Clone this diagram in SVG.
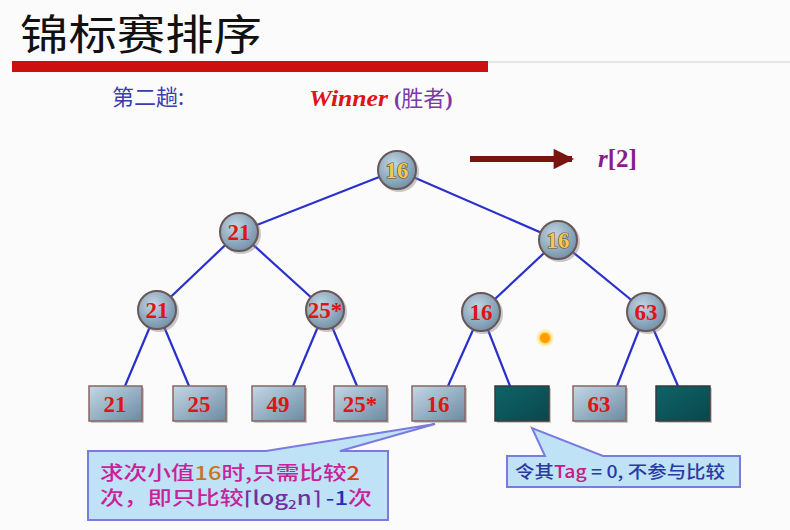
<svg xmlns="http://www.w3.org/2000/svg" width="790" height="530" viewBox="0 0 790 530">
<defs>
<radialGradient id="gc" cx="40%" cy="35%" r="70%">
<stop offset="0" stop-color="#c2d6e4"/>
<stop offset="1" stop-color="#6f8ea6"/>
</radialGradient>
<linearGradient id="gr" x1="0" y1="0" x2="1" y2="1">
<stop offset="0" stop-color="#c4d8e6"/>
<stop offset="1" stop-color="#6c8aa2"/>
</linearGradient>
<linearGradient id="gd" x1="0" y1="0" x2="1" y2="1">
<stop offset="0" stop-color="#0e6468"/>
<stop offset="1" stop-color="#0a474c"/>
</linearGradient>
<radialGradient id="glow">
<stop offset="0" stop-color="#ff9900"/>
<stop offset="0.45" stop-color="#ffa000"/>
<stop offset="0.55" stop-color="#ffd860"/>
<stop offset="1" stop-color="#fff3c0" stop-opacity="0"/>
</radialGradient>
<marker id="ah" viewBox="0 0 10 10" refX="9" refY="5" markerWidth="4" markerHeight="3.4" orient="auto" markerUnits="strokeWidth">
<path d="M0,0 L10,5 L0,10 Z" fill="#7a1410"/>
</marker>
</defs>
<style>
.cj{font-family:"Noto Sans CJK SC","Noto Sans",sans-serif}
.num{font-family:"Liberation Serif","DejaVu Serif",serif;font-weight:bold;font-size:23px;text-anchor:middle}
.red{fill:#dd1515}
.gold{fill:#f0c858;stroke:#6a5020;stroke-width:1.2;paint-order:stroke}
.edge{stroke:#2a30cc;stroke-width:2.2;fill:none}
.circ{fill:url(#gc);stroke:#6a5656;stroke-width:2}
.shad{fill:#888;opacity:0.45}
.leaf{fill:url(#gr);stroke:#8a6464;stroke-width:1.5}
.dark{fill:url(#gd);stroke:#3a3a3a;stroke-width:1.5}
.call{fill:#bfe2f6;stroke:#7a7ae0;stroke-width:2}
</style>
<rect width="790" height="530" fill="#fbfbfb"/>

<g id="title">
<text x="20" y="50" class="cj" font-size="42" fill="#111" textLength="242" lengthAdjust="spacingAndGlyphs">锦标赛排序</text>
<line x1="488" y1="62" x2="790" y2="62" stroke="#cfcfcf" stroke-width="1"/>
<rect x="12" y="61" width="476" height="11" fill="#cc1010"/>
</g>

<g id="subtitle">
<text x="112" y="105" class="cj" font-size="22" fill="#3a3cb0">第二趟:</text>
<text x="309" y="106" font-family="Liberation Serif,serif" font-weight="bold" font-style="italic" font-size="24" fill="#dd1515" textLength="79" lengthAdjust="spacingAndGlyphs">Winner</text>
<text x="394" y="106" font-size="22" fill="#7a3aa8"><tspan font-family="Liberation Serif,serif" font-weight="bold">(</tspan><tspan class="cj">胜者</tspan><tspan font-family="Liberation Serif,serif" font-weight="bold">)</tspan></text>
</g>

<g id="connectors">
<line class="edge" x1="397" y1="170" x2="239" y2="232"/>
<line class="edge" x1="397" y1="170" x2="558" y2="240"/>
<line class="edge" x1="239" y1="232" x2="157" y2="310"/>
<line class="edge" x1="239" y1="232" x2="325" y2="310"/>
<line class="edge" x1="558" y1="240" x2="481" y2="312"/>
<line class="edge" x1="558" y1="240" x2="646" y2="312"/>
<line class="edge" x1="157" y1="310" x2="125" y2="386"/>
<line class="edge" x1="157" y1="310" x2="189" y2="386"/>
<line class="edge" x1="325" y1="310" x2="293" y2="386"/>
<line class="edge" x1="325" y1="310" x2="357" y2="386"/>
<line class="edge" x1="481" y1="312" x2="448" y2="386"/>
<line class="edge" x1="481" y1="312" x2="510" y2="386"/>
<line class="edge" x1="646" y1="312" x2="617" y2="386"/>
<line class="edge" x1="646" y1="312" x2="678" y2="386"/>
<line x1="470" y1="159" x2="572" y2="159" stroke="#7a1410" stroke-width="6" marker-end="url(#ah)"/>
</g>

<g id="r2">
<text x="598" y="167" font-family="Liberation Serif,serif" font-weight="bold" font-size="25" fill="#8a1a8e"><tspan font-style="italic">r</tspan>[2]</text>
</g>

<g id="n-root"><circle class="shad" cx="399" cy="172" r="20"/><circle class="circ" cx="397" cy="170" r="19"/><text class="num gold" x="397" y="178">16</text></g>
<g id="n-l1a"><circle class="shad" cx="241" cy="234" r="20"/><circle class="circ" cx="239" cy="232" r="19"/><text class="num red" x="239" y="240">21</text></g>
<g id="n-l1b"><circle class="shad" cx="560" cy="242" r="20"/><circle class="circ" cx="558" cy="240" r="19"/><text class="num gold" x="558" y="248">16</text></g>
<g id="n-l2a"><circle class="shad" cx="159" cy="312" r="20"/><circle class="circ" cx="157" cy="310" r="19"/><text class="num red" x="157" y="318">21</text></g>
<g id="n-l2b"><circle class="shad" cx="327" cy="312" r="20"/><circle class="circ" cx="325" cy="310" r="19"/><text class="num red" x="325" y="318" font-size="21">25*</text></g>
<g id="n-l2c"><circle class="shad" cx="483" cy="314" r="20"/><circle class="circ" cx="481" cy="312" r="19"/><text class="num red" x="481" y="320">16</text></g>
<g id="n-l2d"><circle class="shad" cx="648" cy="314" r="20"/><circle class="circ" cx="646" cy="312" r="19"/><text class="num red" x="646" y="320">63</text></g>

<g id="leaf1"><rect class="shad" x="91" y="388" width="53" height="35"/><rect class="leaf" x="89" y="386" width="53" height="35"/><text class="num red" x="115" y="412">21</text></g>
<g id="leaf2"><rect class="shad" x="175" y="388" width="53" height="35"/><rect class="leaf" x="173" y="386" width="53" height="35"/><text class="num red" x="199" y="412">25</text></g>
<g id="leaf3"><rect class="shad" x="254" y="388" width="53" height="35"/><rect class="leaf" x="252" y="386" width="53" height="35"/><text class="num red" x="278" y="412">49</text></g>
<g id="leaf4"><rect class="shad" x="336" y="388" width="53" height="35"/><rect class="leaf" x="334" y="386" width="53" height="35"/><text class="num red" x="360" y="412">25*</text></g>
<g id="leaf5"><rect class="shad" x="414" y="388" width="53" height="35"/><rect class="leaf" x="412" y="386" width="53" height="35"/><text class="num red" x="438" y="412">16</text></g>
<g id="leaf6"><rect class="shad" x="497" y="388" width="54" height="35"/><rect class="dark" x="495" y="386" width="54" height="35"/></g>
<g id="leaf7"><rect class="shad" x="575" y="388" width="53" height="35"/><rect class="leaf" x="573" y="386" width="53" height="35"/><text class="num red" x="599" y="412">63</text></g>
<g id="leaf8"><rect class="shad" x="658" y="388" width="54" height="35"/><rect class="dark" x="656" y="386" width="54" height="35"/></g>

<g id="cursor"><circle cx="545" cy="338" r="10" fill="url(#glow)"/></g>

<g id="callout1">
<path class="call" d="M88,451 L266,451 L435,424 L340,451 L388,451 L388,520 L88,520 Z"/>
<text x="100" y="480" class="cj" font-size="19" font-weight="500" fill="#c8229a" textLength="260" lengthAdjust="spacingAndGlyphs">求次小值<tspan fill="#c87424">16</tspan>时,只需比较<tspan fill="#d04414">2</tspan></text>
<text x="100" y="505" class="cj" font-size="19" font-weight="500" fill="#c8229a" textLength="272" lengthAdjust="spacingAndGlyphs">次，即只比较<tspan fill="#7030a0">⌈log<tspan font-size="12" dy="4">2</tspan><tspan dy="-4">n⌉</tspan></tspan> <tspan fill="#2030c0">-1</tspan>次</text>
</g>

<g id="callout2">
<path class="call" d="M507,456 L545,456 L532,428 L603,456 L740,456 L740,487 L507,487 Z"/>
<text x="515" y="478" class="cj" font-size="17" font-weight="500" fill="#2a3aa0" textLength="210" lengthAdjust="spacingAndGlyphs">令其<tspan fill="#c02080">Tag</tspan> = 0, 不参与比较</text>
</g>
</svg>
